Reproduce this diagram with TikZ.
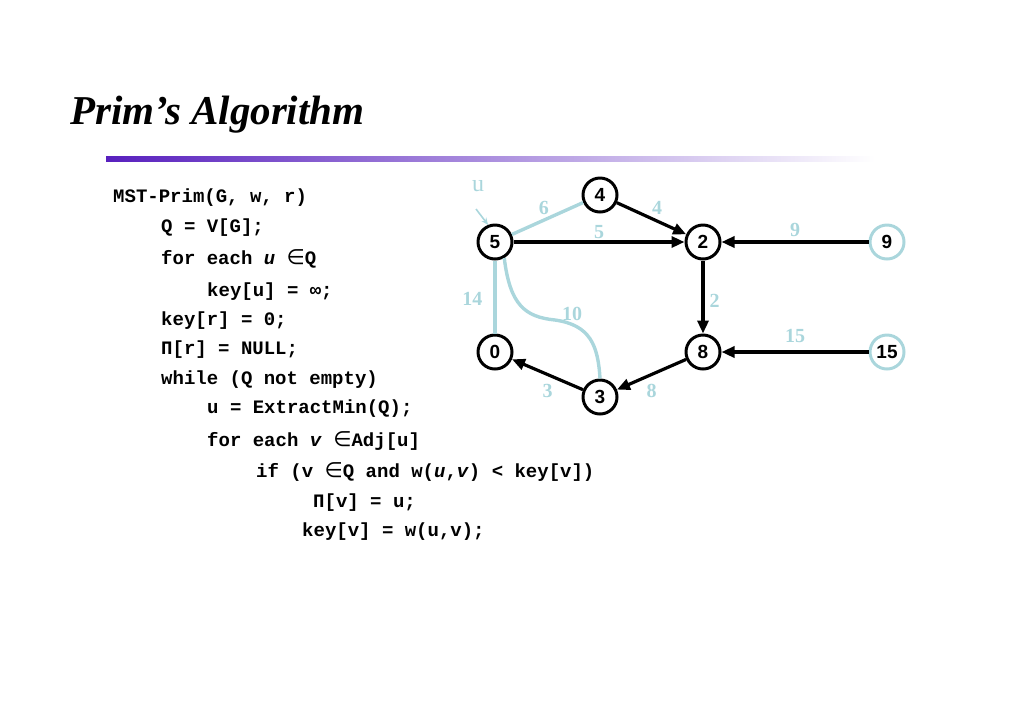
\documentclass[tikz,border=0pt]{standalone}
\usepackage{fontspec}
\setmainfont{Liberation Serif}
\setsansfont{Liberation Sans}
\setmonofont{Liberation Mono}
\newfontfamily\symfam{DejaVu Sans}
\newcommand{\elem}{{\symfam\mdseries\fontsize{21}{21}\selectfont ∈}}
\usetikzlibrary{positioning,arrows.meta}
\definecolor{keycyan}{RGB}{170,214,220}
\definecolor{rulepurple}{RGB}{88,32,190}
\tikzset{
  vtx/.style={circle, draw, line width=3pt, minimum size=34pt, inner sep=0pt,
    font=\sffamily\bfseries\fontsize{19}{19}\selectfont},
  qvtx/.style={vtx, draw=keycyan},
  tree/.style={line width=3.2pt, -{Triangle[length=13pt,width=11pt]}},
  cand/.style={line width=3.4pt, keycyan},
  wlab/.style={keycyan, inner sep=1pt, font=\bfseries\fontsize{20}{20}\selectfont},
  code/.style={anchor=base west, inner sep=0pt, font=\ttfamily\bfseries\fontsize{19}{19}\selectfont},
}

\begin{document}
\begin{tikzpicture}[x=1pt,y=-1pt,on grid]
	\useasboundingbox (0,0) rectangle (1024,724);
	
	% title and rule
	\node[anchor=base west, inner sep=0pt, font=\bfseries\itshape\fontsize{41}{41}\selectfont] (title) at (70,124) {Prim’s Algorithm};
	\shade[left color=rulepurple, middle color=rulepurple!55, right color=white] (106,156.5) rectangle (875,161);
	
	% pseudo code
	\node[code] (l1) at (113,202) {MST-Prim(G, w, r)};
	\node[code] (l2) at (161,232) {Q = V[G];};
	\node[code] (l3) at (161,264) {for each \textit{u} \elem Q};
	\node[code] (l4) at (207,296) {key[u] = ∞;};
	\node[code] (l5) at (161,325) {key[r] = 0;};
	\node[code] (l6) at (161,354) {Π[r] = NULL;};
	\node[code] (l7) at (161,384) {while (Q not empty)};
	\node[code] (l8) at (207,413) {u = ExtractMin(Q);};
	\node[code] (l9) at (207,446) {for each \textit{v} \elem Adj[u]};
	\node[code] (l10) at (256,477) {if (v \elem Q and w(\textit{u},\textit{v}) < key[v])};
	\node[code] (l11) at (313,507) {Π[v] = u;};
	\node[code] (l12) at (302,536) {key[v] = w(u,v);};
	
	% graph
	\node[vtx] (n5) at (495,242) {5};
	\node[vtx, above right=47pt and 105pt of n5] (n4) {4};
	\node[vtx, right=208pt of n5] (n2) {2};
	\node[qvtx, right=184pt of n2] (n9) {9};
	\node[vtx, below=110pt of n5] (n0) {0};
	\node[vtx, below=110pt of n2] (n8) {8};
	\node[qvtx, right=184pt of n8] (n15) {15};
	\node[vtx, below right=45pt and 105pt of n0] (n3) {3};
	
	\draw[cand] (n5) -- node[wlab, above=3pt, pos=0.45] {6} (n4);
	\draw[cand] (n5) -- node[wlab, left=10pt, pos=0.53] {14} (n0);
	\draw[cand] (n5.-60) .. controls (510,305) and (525,317) .. (555,320)
		.. controls (590,325) and (598,345) .. (n3.north);
	\node[wlab] (w10) at (572,314) {10};
	
	\draw[tree] (n4) -- node[wlab, above=4pt, pos=0.58] {4} (n2);
	\draw[tree] (n5) -- node[wlab, above=1pt] {5} (n2);
	\draw[tree] (n9) -- node[wlab, above=3pt] {9} (n2);
	\draw[tree] (n2) -- node[wlab, right=4pt, pos=0.55] {2} (n8);
	\draw[tree] (n15) -- node[wlab, above=7pt] {15} (n8);
	\draw[tree] (n8) -- node[wlab, below=7pt] {8} (n3);
	\draw[tree] (n3) -- node[wlab, below=7pt] {3} (n0);
	
	% current vertex
	\node[keycyan, inner sep=0pt, font=\fontsize{24}{24}\selectfont] (ulab) at (478,186) {u};
	\coordinate (utail) at (476,209);
	\draw[keycyan, line width=1.6pt, -{Stealth[length=7pt,width=6pt]}] (utail) -- (n5.112);
\end{tikzpicture}
\end{document}
